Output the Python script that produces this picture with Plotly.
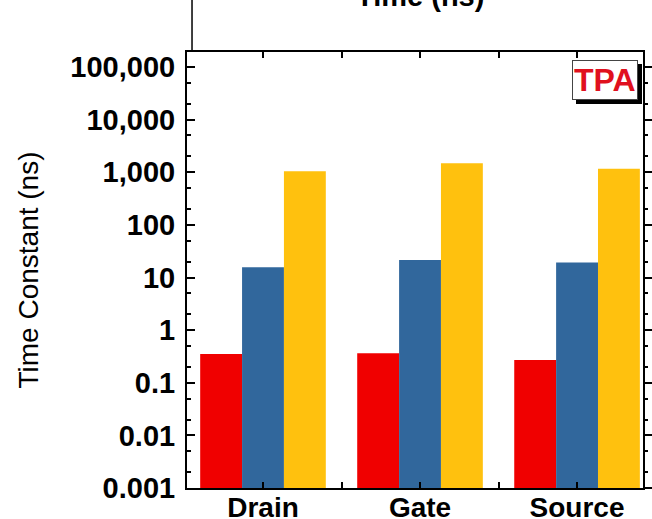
import plotly.graph_objects as go

categories = ["Drain", "Gate", "Source"]
series_names = ["τ1", "τ2", "τ3"]
tau1 = [0.35, 0.365, 0.27]
tau2 = [15.7, 21.6, 19.2]
tau3 = [1050, 1490, 1160]
colors = ["#F00000", "#31679C", "#FFC10E"]
ytick_vals = [0.001, 0.01, 0.1, 1, 10, 100, 1000, 10000, 100000]
ytick_text = ["0.001", "0.01", "0.1", "1", "10", "100", "1,000", "10,000", "100,000"]

xpos = list(range(len(categories)))
fig = go.Figure()
for name, vals, c in zip(series_names, [tau1, tau2, tau3], colors):
    fig.add_trace(go.Bar(x=xpos, y=vals, name=name, marker=dict(color=c, line=dict(width=0)),
                         showlegend=False))
# dummy trace for right axis
fig.add_trace(go.Scatter(x=[], y=[], yaxis="y2", showlegend=False))

font = "Liberation Sans, Arial, sans-serif"
yr = [-3, 5.285]
fig.update_layout(
    width=652, height=519,
    margin=dict(l=187, r=9, t=52, b=31),
    paper_bgcolor="white", plot_bgcolor="white",
    barmode="group", bargap=0.2, bargroupgap=0,
    font=dict(family=font, color="black"),
    xaxis=dict(range=[-0.484, 2.42], tickvals=xpos, ticktext=categories,
               ticks="inside", ticklen=6, tickwidth=1.5, tickcolor="black",
               showline=True, linecolor="black", linewidth=2, mirror="allticks",
               showgrid=False, zeroline=False, automargin=False,
               tickfont=dict(size=28, family=font, weight="bold"),
               ticklabelstandoff=-7,
               minor=dict(dtick=0.5, tick0=0.5, ticks="inside", ticklen=3, tickcolor="black", showgrid=False)),
    yaxis=dict(type="log", range=yr, tickvals=ytick_vals, ticktext=ytick_text,
               ticks="inside", ticklen=8, tickwidth=1.5, tickcolor="black",
               showline=True, linecolor="black", linewidth=2, mirror=False,
               showgrid=False, zeroline=False, automargin=False,
               tickfont=dict(size=29, family=font, weight="bold"),
               ticklabelstandoff=4,
               minor=dict(ticks="inside", ticklen=4, tickcolor="black", showgrid=False),
               title=dict(text="Time Constant (ns)", font=dict(size=28, family=font), standoff=24)),
    yaxis2=dict(type="log", range=yr, overlaying="y", side="right", anchor="x",
                tickvals=ytick_vals, showticklabels=False, automargin=False,
                ticks="outside", ticklen=9, tickwidth=1.5, tickcolor="black",
                showline=True, linecolor="black", linewidth=2,
                showgrid=False, zeroline=False,
                minor=dict(ticks="outside", ticklen=3, tickcolor="black", showgrid=False)),
)

# Cropped title of the panel above
fig.add_annotation(text="<b>Time (ns)</b>", xref="paper", yref="paper", x=0.51, y=1.128,
                   yanchor="middle", showarrow=False, font=dict(size=29, family=font, color="black"))
# line from upper panel
fig.add_shape(type="line", xref="paper", yref="paper", x0=0.011, x1=0.011, y0=1.0, y1=1.2,
              line=dict(color="black", width=1.5))

# TPA label with drop shadow
fig.add_annotation(text="<b>TPA</b>", xref="paper", yref="paper", x=0.99, y=0.981,
                   xanchor="right", yanchor="top", showarrow=False, xshift=4, yshift=-4,
                   font=dict(size=32, family=font, color="black"),
                   bgcolor="black", bordercolor="black", borderwidth=1, borderpad=1)
fig.add_annotation(text="<b>TPA</b>", xref="paper", yref="paper", x=0.99, y=0.981,
                   xanchor="right", yanchor="top", showarrow=False,
                   font=dict(size=32, family=font, color="#E0101E"),
                   bgcolor="white", bordercolor="#444444", borderwidth=1, borderpad=1)

fig.write_html("out.html")
